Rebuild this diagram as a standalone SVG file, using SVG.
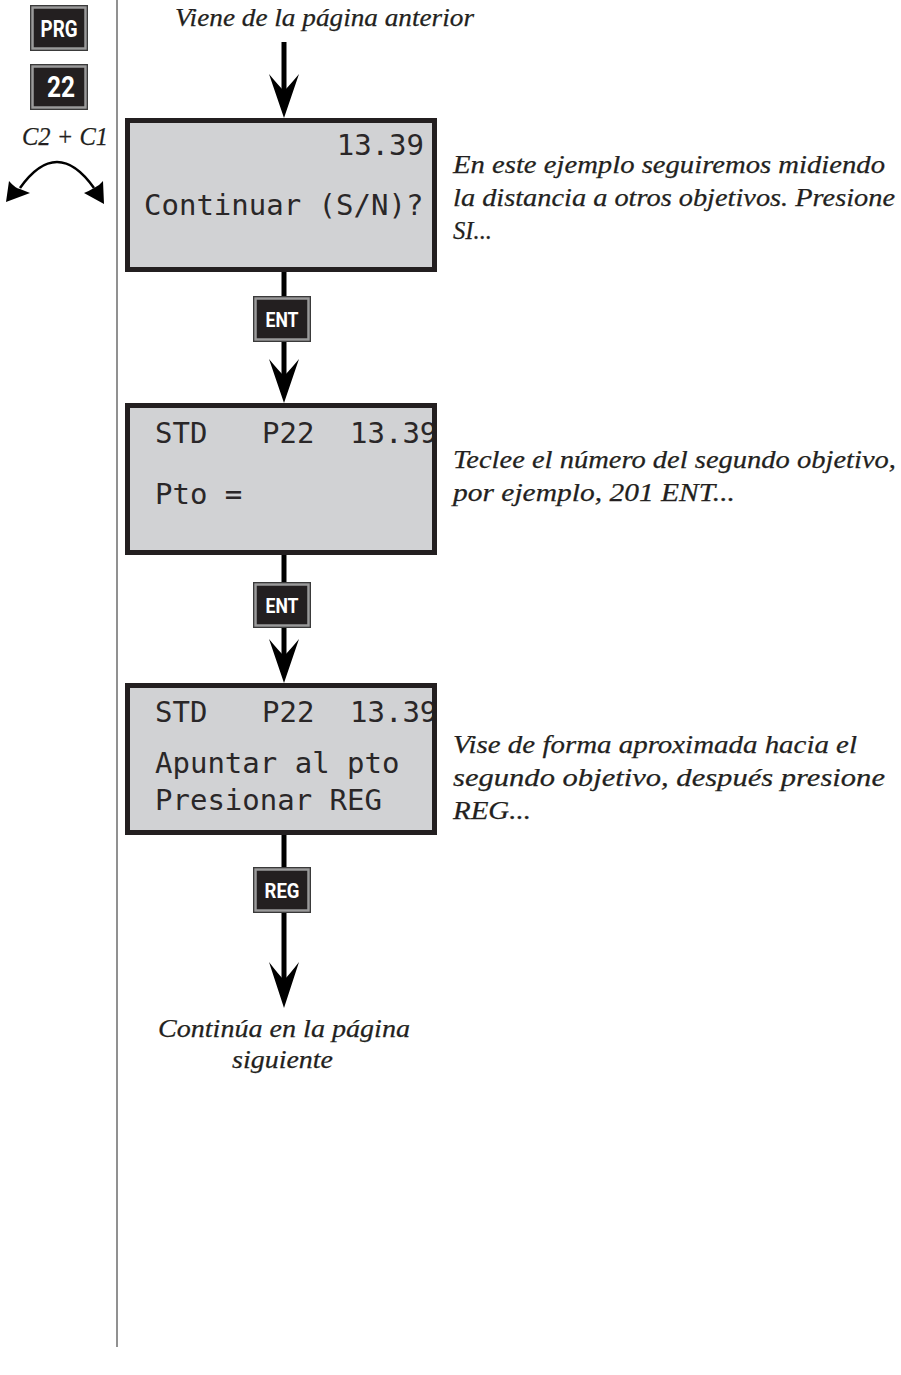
<svg xmlns="http://www.w3.org/2000/svg" width="901" height="1375" viewBox="0 0 901 1375">
  <defs>
    <style>
      .lcd { fill: #d1d2d4; }
      .lcd-frame { fill: none; stroke: #231f20; stroke-width: 5; }
      .mono { font-family: "DejaVu Sans Mono", "Liberation Mono", monospace; font-size: 29px; fill: #2a2728; }
      .note { font-family: "Liberation Serif", "Times New Roman", serif; font-style: italic; font-size: 26px; fill: #231f20; stroke: #231f20; stroke-width: 0.25; }
      .key-out { fill: #231f20; stroke: #3a3a3a; stroke-width: 1; }
      .key-in { fill: #231f20; stroke: #9a9a9a; stroke-width: 2.5; }
      .key-txt { font-family: Roboto, "Liberation Sans", sans-serif; font-weight: bold; fill: #ffffff; text-anchor: middle; }
      .wire { stroke: #000; stroke-width: 5; fill: none; }
      .head { fill: #000; }
    </style>
  </defs>

  <rect width="901" height="1375" fill="#ffffff"/>

  <!-- margin rule -->
  <line x1="117" y1="0" x2="117" y2="1347" stroke="#6d6d6d" stroke-width="1.5"/>

  <!-- program keys in the margin -->
  <g id="key-prg">
    <rect class="key-out" x="30.5" y="5.5" width="57" height="45"/>
    <rect class="key-in" x="32.5" y="7.5" width="53" height="41"/>
    <text class="key-txt" x="59" y="37" font-size="24" textLength="37" lengthAdjust="spacingAndGlyphs">PRG</text>
  </g>
  <g id="key-22">
    <rect class="key-out" x="30.5" y="64.5" width="57" height="45"/>
    <rect class="key-in" x="32.5" y="66.5" width="53" height="41"/>
    <text class="key-txt" x="61" y="97" font-size="30" textLength="28" lengthAdjust="spacingAndGlyphs">22</text>
  </g>

  <!-- face change C2 + C1 -->
  <g id="face-change">
    <text class="note" x="22" y="145" font-size="22" textLength="86" lengthAdjust="spacingAndGlyphs">C2 + C1</text>
    <path d="M 20 188 Q 57 136 94 188" stroke="#000" stroke-width="2.5" fill="none"/>
    <path class="head" d="M 6 202 L 9 181 Q 15 188 20 189 Q 25 191 30 193 Z"/>
    <path class="head" d="M 104 204 L 84 193 Q 89 191 94 188 Q 99 186 103 181 Z"/>
  </g>

  <!-- header / footer notes -->
  <g id="from-prev">
    <text class="note" x="175" y="26" textLength="299" lengthAdjust="spacingAndGlyphs">Viene de la página anterior</text>
  </g>
  <g id="to-next">
    <text class="note" x="158" y="1037" textLength="252" lengthAdjust="spacingAndGlyphs">Continúa en la página</text>
    <text class="note" x="232" y="1068" textLength="101" lengthAdjust="spacingAndGlyphs">siguiente</text>
  </g>

  <!-- connectors -->
  <g id="connectors">
    <line class="wire" x1="284" y1="42" x2="284" y2="100"/>
    <path class="head" d="M 284 118 L 269 74 Q 279 86 284 91 Q 289 86 299 74 Z"/>

    <line class="wire" x1="284" y1="272" x2="284" y2="385"/>
    <path class="head" d="M 284 403 L 269 359 Q 279 371 284 376 Q 289 371 299 359 Z"/>

    <line class="wire" x1="284" y1="555" x2="284" y2="665"/>
    <path class="head" d="M 284 683 L 269 639 Q 279 651 284 656 Q 289 651 299 639 Z"/>

    <line class="wire" x1="284" y1="835" x2="284" y2="990"/>
    <path class="head" d="M 284 1008 L 269 962 Q 279 975 284 980 Q 289 975 299 962 Z"/>
  </g>

  <!-- keys on the flow -->
  <g id="key-ent-1">
    <rect class="key-out" x="253.5" y="296.5" width="57" height="45"/>
    <rect class="key-in" x="255.5" y="298.5" width="53" height="41"/>
    <text class="key-txt" x="282" y="327" font-size="21" textLength="33" lengthAdjust="spacingAndGlyphs">ENT</text>
  </g>
  <g id="key-ent-2">
    <rect class="key-out" x="253.5" y="582.5" width="57" height="45"/>
    <rect class="key-in" x="255.5" y="584.5" width="53" height="41"/>
    <text class="key-txt" x="282" y="613" font-size="21" textLength="33" lengthAdjust="spacingAndGlyphs">ENT</text>
  </g>
  <g id="key-reg">
    <rect class="key-out" x="253.5" y="867.5" width="57" height="45"/>
    <rect class="key-in" x="255.5" y="869.5" width="53" height="41"/>
    <text class="key-txt" x="282" y="898" font-size="21" textLength="35" lengthAdjust="spacingAndGlyphs">REG</text>
  </g>

  <!-- display 1 -->
  <g id="display-continue">
    <rect class="lcd" x="127.5" y="120.5" width="307" height="149"/>
    <text class="mono" x="424" y="155" text-anchor="end">13.39</text>
    <text class="mono" x="144" y="215">Continuar (S/N)?</text>
    <rect class="lcd-frame" x="127.5" y="120.5" width="307" height="149"/>
  </g>

  <!-- display 2 -->
  <g id="display-point">
    <rect class="lcd" x="127.5" y="405.5" width="307" height="147"/>
    <text class="mono" x="155" y="443">STD</text>
    <text class="mono" x="262" y="443">P22</text>
    <text class="mono" x="350" y="443">13.39</text>
    <text class="mono" x="155" y="504">Pto =</text>
    <rect class="lcd-frame" x="127.5" y="405.5" width="307" height="147"/>
  </g>

  <!-- display 3 -->
  <g id="display-aim">
    <rect class="lcd" x="127.5" y="685.5" width="307" height="147"/>
    <text class="mono" x="155" y="722">STD</text>
    <text class="mono" x="262" y="722">P22</text>
    <text class="mono" x="350" y="722">13.39</text>
    <text class="mono" x="155" y="773">Apuntar al pto</text>
    <text class="mono" x="155" y="810">Presionar REG</text>
    <rect class="lcd-frame" x="127.5" y="685.5" width="307" height="147"/>
  </g>

  <!-- explanatory notes -->
  <g id="note-1">
    <text class="note" x="453" y="173" textLength="432" lengthAdjust="spacingAndGlyphs">En este ejemplo seguiremos midiendo</text>
    <text class="note" x="453" y="206" textLength="442" lengthAdjust="spacingAndGlyphs">la distancia a otros objetivos. Presione</text>
    <text class="note" x="453" y="239" textLength="39" lengthAdjust="spacingAndGlyphs">SI...</text>
  </g>
  <g id="note-2">
    <text class="note" x="453" y="468" textLength="443" lengthAdjust="spacingAndGlyphs">Teclee el número del segundo objetivo,</text>
    <text class="note" x="453" y="501" textLength="282" lengthAdjust="spacingAndGlyphs">por ejemplo, 201 ENT...</text>
  </g>
  <g id="note-3">
    <text class="note" x="453" y="753" textLength="404" lengthAdjust="spacingAndGlyphs">Vise de forma aproximada hacia el</text>
    <text class="note" x="453" y="786" textLength="432" lengthAdjust="spacingAndGlyphs">segundo objetivo, después presione</text>
    <text class="note" x="453" y="819" textLength="78" lengthAdjust="spacingAndGlyphs">REG...</text>
  </g>
</svg>
